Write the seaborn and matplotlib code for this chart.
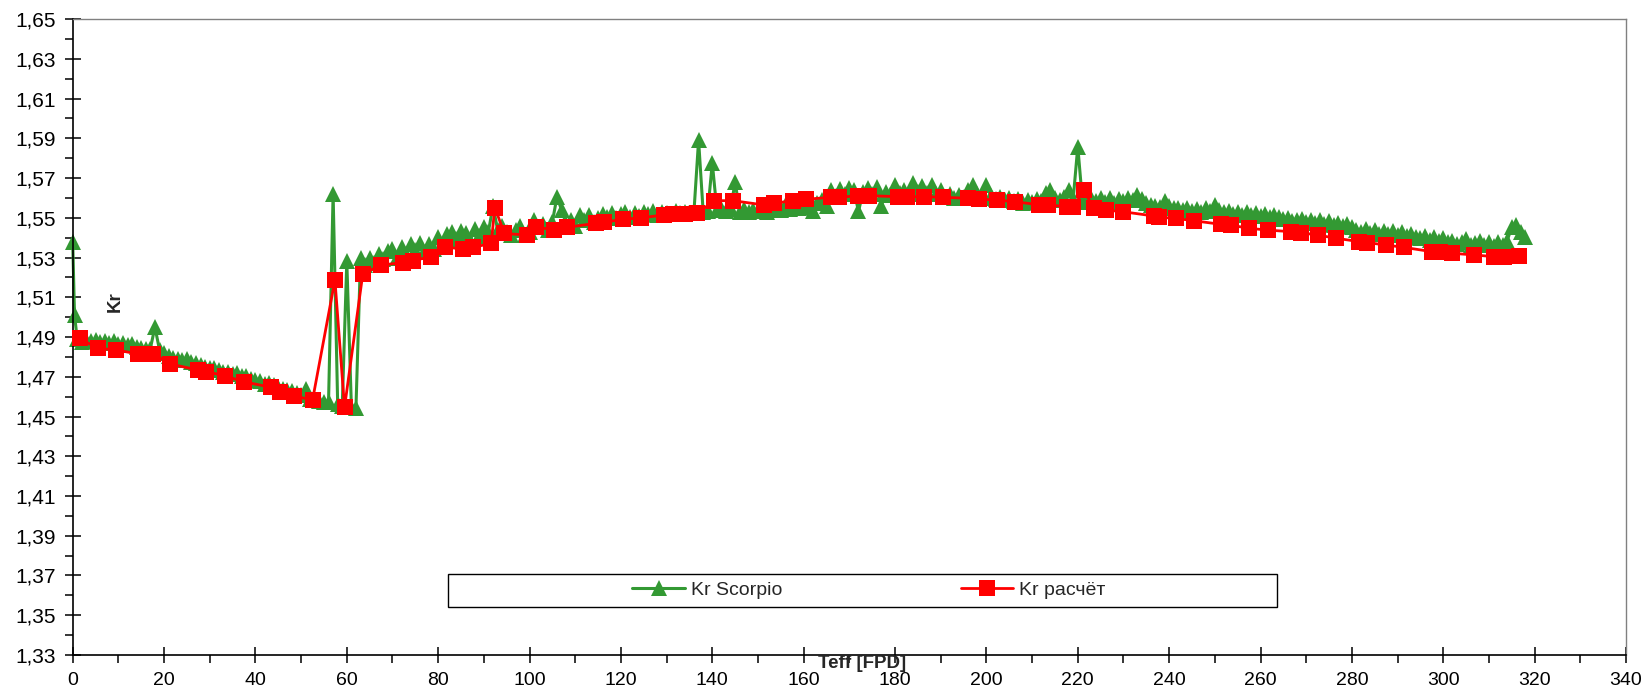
import matplotlib
matplotlib.use("Agg")
import matplotlib.pyplot as plt
from matplotlib.ticker import MultipleLocator, FuncFormatter
from matplotlib.patches import Rectangle
import seaborn as sns

# Kr from the Scorpio monitoring system, daily values vs effective days
green_days = [
    0, 0.4, 1, 2, 3, 4, 5, 6, 7, 8, 9, 10,
    11, 12, 13, 14, 15, 16, 17, 18, 19, 20,
    21, 22, 23, 24, 25, 26, 27, 28, 29, 30,
    31, 32, 33, 34, 35, 36, 37, 38, 39, 40,
    41, 42, 43, 44, 45, 46, 47, 48, 49, 50,
    51, 52, 53, 54, 55, 56, 57, 58, 59, 60,
    61, 62, 63, 64, 65, 66, 67, 68, 69, 70,
    71, 72, 73, 74, 75, 76, 77, 78, 79, 80,
    81, 82, 83, 84, 85, 86, 87, 88, 89, 90,
    91, 92, 93, 94, 95, 96, 97, 98, 99, 100,
    101, 102, 103, 104, 105, 106, 107, 108, 109, 110,
    111, 112, 113, 114, 115, 116, 117, 118, 119, 120,
    121, 122, 123, 124, 125, 126, 127, 128, 129, 130,
    131, 132, 133, 134, 135, 136, 137, 138, 139, 140,
    141, 142, 143, 144, 145, 146, 147, 148, 149, 150,
    151, 152, 153, 154, 155, 156, 157, 158, 159, 160,
    161, 162, 163, 164, 165, 166, 167, 168, 169, 170,
    171, 172, 173, 174, 175, 176, 177, 178, 179, 180,
    181, 182, 183, 184, 185, 186, 187, 188, 189, 190,
    191, 192, 193, 194, 195, 196, 197, 198, 199, 200,
    201, 202, 203, 204, 205, 206, 207, 208, 209, 210,
    211, 212, 213, 214, 215, 216, 217, 218, 219, 220,
    221, 222, 223, 224, 225, 226, 227, 228, 229, 230,
    231, 232, 233, 234, 235, 236, 237, 238, 239, 240,
    241, 242, 243, 244, 245, 246, 247, 248, 249, 250,
    251, 252, 253, 254, 255, 256, 257, 258, 259, 260,
    261, 262, 263, 264, 265, 266, 267, 268, 269, 270,
    271, 272, 273, 274, 275, 276, 277, 278, 279, 280,
    281, 282, 283, 284, 285, 286, 287, 288, 289, 290,
    291, 292, 293, 294, 295, 296, 297, 298, 299, 300,
    301, 302, 303, 304, 305, 306, 307, 308, 309, 310,
    311, 312, 313, 314, 315, 316, 317, 318,
]
green_kr = [
    1.5380, 1.5010, 1.4888, 1.4876, 1.4884, 1.4878, 1.4886, 1.4874, 1.4882, 1.4870, 1.4878, 1.4866,
    1.4872, 1.4860, 1.4866, 1.4852, 1.4846, 1.4838, 1.4842, 1.4950, 1.4835, 1.4818,
    1.4802, 1.4796, 1.4790, 1.4784, 1.4790, 1.4772, 1.4768, 1.4758, 1.4750, 1.4742,
    1.4746, 1.4734, 1.4726, 1.4722, 1.4716, 1.4720, 1.4706, 1.4702, 1.4690, 1.4684,
    1.4680, 1.4662, 1.4668, 1.4656, 1.4648, 1.4640, 1.4634, 1.4626, 1.4616, 1.4608,
    1.4640, 1.4590, 1.4585, 1.4580, 1.4574, 1.4572, 1.5620, 1.4562, 1.4555, 1.5280,
    1.4550, 1.4542, 1.5300, 1.5262, 1.5296, 1.5270, 1.5320, 1.5290, 1.5335, 1.5345,
    1.5300, 1.5355, 1.5318, 1.5368, 1.5340, 1.5372, 1.5330, 1.5368, 1.5345, 1.5405,
    1.5370, 1.5420, 1.5430, 1.5395, 1.5432, 1.5425, 1.5385, 1.5445, 1.5410, 1.5455,
    1.5430, 1.5560, 1.5440, 1.5458, 1.5430, 1.5412, 1.5440, 1.5456, 1.5413, 1.5430,
    1.5490, 1.5455, 1.5470, 1.5440, 1.5480, 1.5605, 1.5540, 1.5470, 1.5490, 1.5460,
    1.5515, 1.5490, 1.5515, 1.5480, 1.5498, 1.5520, 1.5505, 1.5525, 1.5500, 1.5520,
    1.5530, 1.5505, 1.5525, 1.5510, 1.5530, 1.5520, 1.5535, 1.5515, 1.5530, 1.5525,
    1.5520, 1.5535, 1.5522, 1.5530, 1.5525, 1.5535, 1.5890, 1.5530, 1.5532, 1.5775,
    1.5540, 1.5550, 1.5535, 1.5545, 1.5680, 1.5530, 1.5545, 1.5528, 1.5540, 1.5532,
    1.5545, 1.5530, 1.5538, 1.5550, 1.5540, 1.5558, 1.5545, 1.5562, 1.5550, 1.5570,
    1.5555, 1.5535, 1.5575, 1.5590, 1.5560, 1.5640, 1.5610, 1.5645, 1.5620, 1.5648,
    1.5640, 1.5532, 1.5630, 1.5650, 1.5620, 1.5657, 1.5560, 1.5630, 1.5615, 1.5665,
    1.5625, 1.5640, 1.5620, 1.5677, 1.5630, 1.5660, 1.5625, 1.5665, 1.5620, 1.5640,
    1.5605, 1.5620, 1.5600, 1.5615, 1.5605, 1.5640, 1.5665, 1.5620, 1.5600, 1.5665,
    1.5610, 1.5595, 1.5605, 1.5590, 1.5600, 1.5585, 1.5595, 1.5575, 1.5590, 1.5580,
    1.5595, 1.5585, 1.5623, 1.5640, 1.5600, 1.5590, 1.5605, 1.5640, 1.5595, 1.5858,
    1.5590, 1.5580, 1.5600, 1.5585, 1.5598, 1.5580, 1.5600, 1.5575, 1.5595, 1.5585,
    1.5600, 1.5590, 1.5615, 1.5595, 1.5575, 1.5565, 1.5560, 1.5555, 1.5586, 1.5560,
    1.5550, 1.5548, 1.5540, 1.5550, 1.5535, 1.5545, 1.5530, 1.5548, 1.5535, 1.5565,
    1.5540, 1.5530, 1.5535, 1.5520, 1.5530, 1.5515, 1.5528, 1.5512, 1.5525, 1.5510,
    1.5520, 1.5505, 1.5515, 1.5506, 1.5495, 1.5500, 1.5485, 1.5490, 1.5492, 1.5478,
    1.5490, 1.5475, 1.5488, 1.5470, 1.5485, 1.5465, 1.5475, 1.5460, 1.5470, 1.5455,
    1.5440, 1.5430, 1.5442, 1.5425, 1.5440, 1.5420, 1.5435, 1.5418, 1.5432, 1.5415,
    1.5428, 1.5410, 1.5420, 1.5405, 1.5400, 1.5410, 1.5390, 1.5405, 1.5385, 1.5400,
    1.5380, 1.5385, 1.5370, 1.5380, 1.5395, 1.5365, 1.5375, 1.5385, 1.5365, 1.5380,
    1.5360, 1.5378, 1.5365, 1.5385, 1.5455, 1.5462, 1.5430, 1.5405,
]

# Calculated Kr at the computation points
calc_days = [
    1.5, 5.5, 9.5, 14.2, 16.1, 17.6, 21.4, 27.4, 29.2, 33.4,
    37.4, 43.4, 45.4, 48.5, 52.5, 57.4, 59.5, 63.5, 67.5, 72.2,
    74.4, 78.4, 81.5, 85.5, 87.6, 91.6, 92.4, 94.5, 99.4, 101.4,
    105.3, 108.3, 114.5, 116.3, 120.4, 124.4, 129.5, 131.4, 134.0, 136.7,
    140.4, 144.5, 151.4, 153.6, 157.6, 160.5, 166.0, 167.8, 171.8, 174.4,
    180.6, 182.7, 186.4, 190.4, 195.9, 198.4, 202.4, 206.3, 211.5, 213.5,
    217.6, 219.0, 221.3, 223.5, 226.1, 230.0, 236.6, 237.8, 241.4, 245.4,
    251.3, 253.5, 257.4, 261.6, 266.6, 268.8, 272.5, 276.5, 281.6, 283.4,
    287.4, 291.4, 297.6, 299.2, 302.0, 306.8, 311.1, 313.3, 316.6,
]
calc_kr = [
    1.4893, 1.4843, 1.4835, 1.4815, 1.4815, 1.4815, 1.4764, 1.4734, 1.4726, 1.4704,
    1.4675, 1.4647, 1.4625, 1.4603, 1.4583, 1.5187, 1.4546, 1.5218, 1.5262, 1.5274,
    1.5284, 1.5304, 1.5354, 1.5341, 1.5351, 1.5371, 1.5551, 1.5421, 1.5413, 1.5455,
    1.5438, 1.5452, 1.5472, 1.5477, 1.5492, 1.5500, 1.5514, 1.5518, 1.5520, 1.5522,
    1.5586, 1.5586, 1.5564, 1.5573, 1.5586, 1.5593, 1.5603, 1.5603, 1.5611, 1.5611,
    1.5606, 1.5606, 1.5606, 1.5603, 1.5598, 1.5594, 1.5589, 1.5580, 1.5566, 1.5564,
    1.5556, 1.5552, 1.5640, 1.5548, 1.5539, 1.5530, 1.5509, 1.5503, 1.5497, 1.5485,
    1.5467, 1.5463, 1.5447, 1.5438, 1.5430, 1.5425, 1.5413, 1.5397, 1.5380, 1.5375,
    1.5363, 1.5351, 1.5329, 1.5328, 1.5321, 1.5313, 1.5304, 1.5303, 1.5308,
]

sns.set_style("ticks")
plt.rcParams["font.family"] = ["Liberation Sans", "DejaVu Sans"]

fig = plt.figure(figsize=(16.47, 6.91), dpi=100)
ax = fig.add_axes([0.04414, 0.0521, 0.98725 - 0.04414, 0.9725 - 0.0521])

sns.lineplot(x=green_days, y=green_kr, ax=ax, color="#339933", linewidth=2.2,
             marker="^", markersize=11, markeredgewidth=0, estimator=None,
             sort=False, label="Kr Scorpio", zorder=2, clip_on=False)
sns.lineplot(x=calc_days, y=calc_kr, ax=ax, color="#ff0000", linewidth=2.0,
             marker="s", markersize=11, markeredgewidth=0, estimator=None,
             sort=False, label="Kr расчёт", zorder=3, clip_on=False)

ax.set_xlim(0, 340)
ax.set_ylim(1.33, 1.65)
ax.xaxis.set_major_locator(MultipleLocator(20))
ax.xaxis.set_minor_locator(MultipleLocator(10))
ax.yaxis.set_major_locator(MultipleLocator(0.02, offset=0.01))
ax.yaxis.set_minor_locator(MultipleLocator(0.01))
ax.yaxis.set_major_formatter(FuncFormatter(lambda v, p: f"{v:.2f}".replace(".", ",")))
ax.xaxis.set_major_formatter(FuncFormatter(lambda v, p: f"{v:.0f}"))

ax.tick_params(axis="both", which="major", direction="inout", length=12,
               width=1.1, pad=6, color="black", labelcolor="black")
ax.tick_params(axis="x", which="major", labelsize=14)
ax.tick_params(axis="y", which="major", labelsize=15)
ax.tick_params(axis="both", which="minor", direction="out", length=6,
               width=1.1, color="black")

for side in ("left", "bottom"):
    ax.spines[side].set_color("black")
    ax.spines[side].set_linewidth(1.2)
for side in ("top", "right"):
    ax.spines[side].set_color("#808080")
    ax.spines[side].set_linewidth(1.0)
    ax.spines[side].set_visible(True)

ax.set_xlabel("")
ax.set_ylabel("")
fig.text(862.5 / 1647, 1 - 664 / 691, "Teff [FPD]", fontsize=13.5,
         fontweight="bold", ha="center", va="center")
fig.text(115.5 / 1647, 1 - 302 / 691, "Kr", fontsize=13.5, fontweight="bold",
         rotation=90, ha="center", va="center")

handles, labels = ax.get_legend_handles_labels()
if ax.get_legend() is not None:
    ax.get_legend().remove()
fig.legend(handles, labels, loc="center", bbox_to_anchor=(0.5276, 0.1458),
           ncol=2, frameon=False, fontsize=14, handlelength=2.7,
           handletextpad=0.3, columnspacing=9.2, numpoints=1)
fig.patches.append(Rectangle((0.2723, 0.1216), 0.7753 - 0.2723, 0.1700 - 0.1216,
                             transform=fig.transFigure, fill=False,
                             edgecolor="black", linewidth=1.0))

fig.savefig("out.png", dpi=100)
